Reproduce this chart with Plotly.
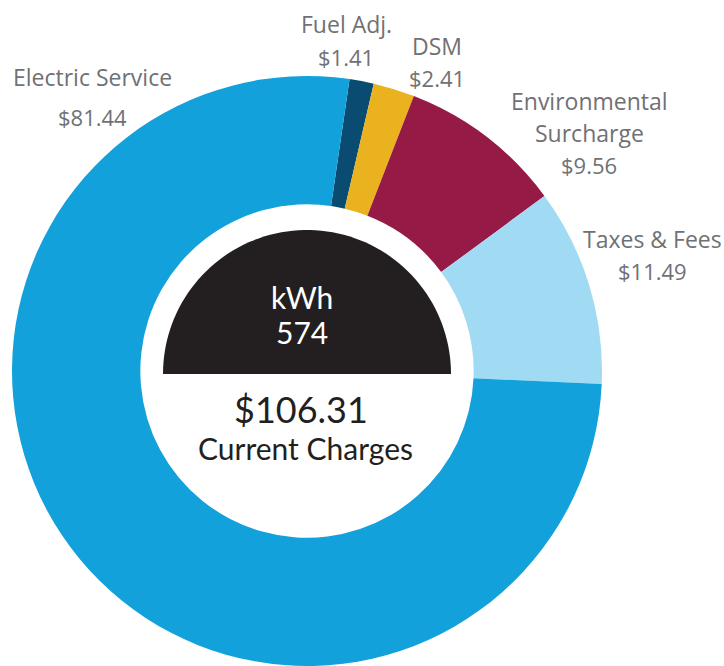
import numpy as np
import plotly.graph_objects as go

W, H = 724, 666

# ---- data ----
categories = ["Fuel Adj.", "DSM", "Environmental<br>Surcharge", "Taxes & Fees", "Electric Service"]
values = [1.41, 2.41, 9.56, 11.49, 81.44]
value_labels = ["$1.41", "$2.41", "$9.56", "$11.49", "$81.44"]
colors = ["#0A4B72", "#EAB21F", "#961A46", "#A0DBF3", "#13A1DB"]
kwh_label = "kWh"
kwh_value = "574"
total_label = "$106.31"
total_caption = "Current Charges"

# geometry (pixels)
cx, cy, R = 307, 372, 296


def px(x):
    return x / W


def py(y):
    return 1 - y / H


fig = go.Figure()
fig.add_trace(go.Pie(
    labels=categories,
    values=values,
    marker=dict(colors=colors, line=dict(width=0)),
    hole=0.565,
    sort=False,
    direction="clockwise",
    rotation=8.3,
    textinfo="none",
    hoverinfo="label+value",
    showlegend=False,
    domain=dict(x=[px(cx - R), px(cx + R)], y=[0, py(cy - R)]),
))

# dark half disc in the hole
rs = 144
scy = 374
th = np.linspace(np.pi, 0, 80)
pts = [(cx + rs * np.cos(t), scy - rs * np.sin(t)) for t in th]
path = "M " + " L ".join(f"{px(x):.5f},{py(y):.5f}" for x, y in pts) + " Z"
fig.add_shape(type="path", path=path, xref="paper", yref="paper",
              fillcolor="#231F20", line=dict(width=0), layer="above")

grey = "#707174"
lab_font = "Open Sans, sans-serif"
label_pos = {
    "Electric Service": (92, 77, 23),
    "$81.44": (92, 117, 22),
    "Fuel Adj.": (346, 24, 23),
    "$1.41": (346, 57, 22),
    "DSM": (437, 46, 23),
    "$2.41": (437, 78, 22),
    "Environmental": (589, 101, 23),
    "Surcharge": (589, 133, 23),
    "$9.56": (589, 165, 22),
    "Taxes & Fees": (652, 239, 23),
    "$11.49": (652, 271, 22),
}
texts = ["Electric Service", value_labels[4], "Fuel Adj.", value_labels[0], "DSM", value_labels[1],
         "Environmental", "Surcharge", value_labels[2], "Taxes & Fees", value_labels[3]]
for t in texts:
    x, y, s = label_pos[t]
    fig.add_annotation(x=px(x), y=py(y), xref="paper", yref="paper", text=t, showarrow=False,
                       xanchor="center", yanchor="middle",
                       font=dict(family=lab_font, size=s, color=grey))

cfont = "Lato, sans-serif"
center = [
    (kwh_label, 302, 297, 30, "white"),
    (kwh_value, 302, 332, 30, "white"),
    (total_label, 301, 409, 36, "#231F20"),
    (total_caption, 305, 448, 30, "#231F20"),
]
for t, x, y, s, c in center:
    fig.add_annotation(x=px(x), y=py(y), xref="paper", yref="paper", text=t, showarrow=False,
                       xanchor="center", yanchor="middle",
                       font=dict(family=cfont, size=s, color=c))

fig.update_layout(width=W, height=H, margin=dict(l=0, r=0, t=0, b=0),
                  paper_bgcolor="white", plot_bgcolor="white")
fig.write_html("out.html", config={"displayModeBar": False},
               post_script="document.body.style.margin='0';document.body.style.overflow='hidden';")
